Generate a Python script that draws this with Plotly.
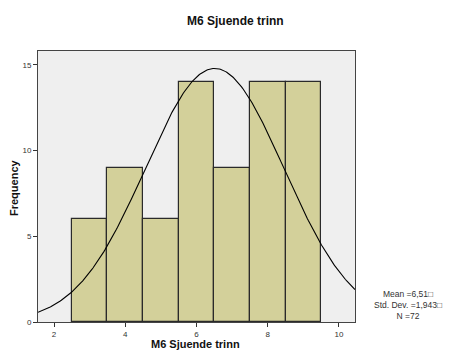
import numpy as np
import plotly.graph_objects as go

categories = [3, 4, 5, 6, 7, 8, 9]
frequencies = [6, 9, 6, 14, 9, 14, 14]
mean_val = 6.51
std_dev = 1.943
n_total = 72
x_ticks = [2, 4, 6, 8, 10]
y_ticks = [0, 5, 10, 15]

xs = np.linspace(1.55, 10.45, 300)
ys = n_total * 1.0 / (std_dev * np.sqrt(2 * np.pi)) * np.exp(-0.5 * ((xs - mean_val) / std_dev) ** 2)

W, H = 451, 351
L, R, T, B = 38, 96, 51, 29
pw, ph = W - L - R, H - T - B

def px_x(x):
    return (x - L) / pw

def px_y(y):
    return (H - B - y) / ph

fig = go.Figure()
fig.add_trace(go.Bar(x=categories, y=frequencies, width=1.0,
                     marker=dict(color="#d3d09a", line=dict(color="#2a2a2a", width=1.2)),
                     showlegend=False))
fig.add_trace(go.Scatter(x=xs, y=ys, mode="lines", line=dict(color="black", width=1.1),
                         showlegend=False))

fig.update_layout(
    width=W, height=H,
    margin=dict(l=L, r=R, t=T, b=B, autoexpand=False),
    paper_bgcolor="white", plot_bgcolor="#efefef",
    font=dict(family="Liberation Sans, Arial, sans-serif", color="#222"),
    bargap=0,
)
fig.update_xaxes(range=[1.55, 10.45], tickvals=x_ticks, ticks="outside", ticklen=4, tickcolor="#333",
                 showgrid=False, zeroline=False, showline=True, linecolor="#444", linewidth=1, mirror=True,
                 tickfont=dict(size=8, color="#333"), automargin=False)
fig.update_yaxes(range=[0, 15.8], tickvals=y_ticks, ticks="outside", ticklen=4, tickcolor="#333",
                 showgrid=False, zeroline=False, showline=True, linecolor="#444", linewidth=1, mirror=True,
                 tickfont=dict(size=8, color="#333"), automargin=False)

# chart title
fig.add_annotation(xref="paper", yref="paper", x=px_x(235), y=px_y(20.5), xanchor="center", yanchor="middle",
                   text="<b>M6 Sjuende trinn</b>", showarrow=False, font=dict(size=12, color="#111"))
# x axis title
fig.add_annotation(xref="paper", yref="paper", x=px_x(195), y=px_y(344), xanchor="center", yanchor="middle",
                   text="<b>M6 Sjuende trinn</b>", showarrow=False, font=dict(size=11, color="#111"))
# y axis title
fig.add_annotation(xref="paper", yref="paper", x=px_x(14), y=px_y(188), xanchor="center", yanchor="middle",
                   text="<b>Frequency</b>", textangle=-90, showarrow=False, font=dict(size=11, color="#111"))

mean_txt = f"{mean_val:.2f}".replace(".", ",")
sd_txt = f"{std_dev:.3f}".replace(".", ",")
fig.add_annotation(xref="paper", yref="paper", x=px_x(408), y=px_y(305), xanchor="center", yanchor="middle",
                   text=f"Mean ={mean_txt}\u25a1<br>Std. Dev. ={sd_txt}\u25a1<br>N ={n_total}",
                   showarrow=False, align="center", font=dict(size=8.5, color="#333"))

fig.write_html("out.html")
